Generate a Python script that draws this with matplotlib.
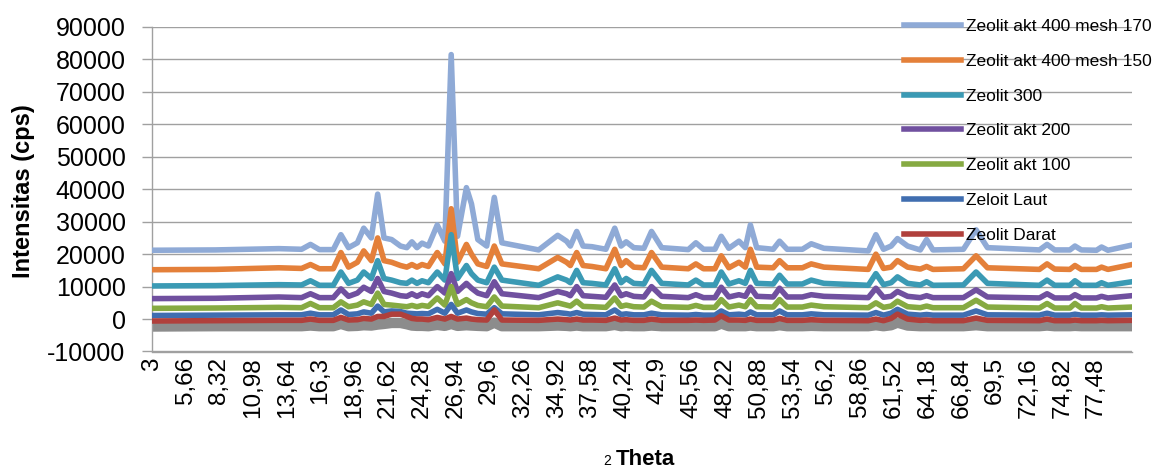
import matplotlib
matplotlib.use("Agg")
import matplotlib.pyplot as plt

plt.rcParams['font.family'] = ['Liberation Sans', 'DejaVu Sans']

theta = [3.0, 8.0, 13.0, 14.8, 15.5, 16.2, 17.3, 17.9, 18.5, 19.2,
         19.7, 20.3, 20.8, 21.3, 21.9, 22.6, 23.1, 23.5, 23.9, 24.3,
         24.8, 25.5, 26.1, 26.6, 27.1, 27.8, 28.2, 28.7, 29.4, 30.0,
         30.6, 33.5, 35.0, 35.7, 36.0, 36.5, 37.0, 37.7, 38.8, 39.5,
         40.0, 40.4, 41.0, 41.8, 42.4, 43.2, 45.3, 45.9, 46.5, 47.4,
         47.9, 48.5, 49.3, 49.8, 50.2, 50.7, 52.0, 52.5, 53.1, 54.3,
         55.0, 56.0, 59.5, 60.1, 60.7, 61.3, 61.8, 62.6, 63.6, 64.1,
         64.6, 67.0, 68.0, 68.9, 73.0, 73.6, 74.2, 75.4, 75.8, 76.3,
         77.5, 77.9, 78.4, 80.3]

mesh170 = [21200, 21300, 21700, 21500, 23000, 21400, 21400, 26000, 22000, 23500,
           28000, 25000, 38500, 25000, 24500, 22500, 22000, 23800, 22000, 23400,
           22500, 29000, 24000, 81500, 25500, 40500, 35500, 24500, 22500, 37500,
           23500, 21300, 25800, 24000, 22500, 27000, 22500, 22300, 21500, 28000,
           22500, 23800, 22000, 21800, 27000, 22000, 21400, 23500, 21500, 21500,
           25500, 21800, 24000, 22000, 29000, 22000, 21500, 24000, 21500, 21500,
           23200, 21800, 21000, 26000, 21500, 22500, 24800, 22500, 21300, 24500,
           21300, 21500, 27500, 22000, 21300, 23000, 21300, 21300, 22500, 21300,
           21200, 22200, 21200, 22800]

mesh150 = [15200, 15300, 15800, 15600, 16800, 15500, 15500, 20500, 16000, 17500,
           21000, 18000, 25000, 18000, 17500, 16500, 16000, 16800, 16000, 16800,
           16200, 20500, 17000, 34000, 17500, 23000, 20000, 17000, 16200, 22500,
           17000, 15500, 19000, 17500, 16500, 20500, 16500, 16200, 15500, 21500,
           16500, 18000, 16000, 15800, 20500, 16000, 15500, 17000, 15500, 15500,
           19500, 15800, 17500, 16000, 21500, 16000, 15800, 18000, 15800, 15800,
           17000, 16000, 15300, 20000, 15600, 16000, 18000, 16000, 15400, 16200,
           15300, 15500, 19500, 15800, 15300, 17000, 15400, 15300, 16500, 15300,
           15300, 16000, 15300, 16800]

z300 = [10200, 10300, 10600, 10500, 11800, 10400, 10400, 14500, 11000, 12000,
        14500, 12500, 18000, 12500, 12000, 11200, 11000, 12000, 11000, 11800,
        11200, 14500, 12000, 26000, 12500, 16500, 14000, 12000, 11200, 16000,
        12000, 10400, 13000, 12000, 11200, 15000, 11200, 11000, 10500, 15500,
        11200, 12500, 11000, 10800, 15000, 11000, 10500, 12000, 10500, 10500,
        14500, 10800, 11800, 11000, 15000, 11000, 10800, 13500, 10800, 10800,
        12000, 11000, 10400, 14000, 10600, 11200, 13000, 11000, 10500, 11500,
        10400, 10500, 14500, 11000, 10400, 12000, 10400, 10400, 11800, 10400,
        10400, 11200, 10400, 11500]

akt200 = [6300, 6400, 6800, 6600, 7800, 6600, 6600, 9300, 7000, 8000,
          9800, 8500, 12500, 8500, 8000, 7200, 7000, 7800, 7000, 7800,
          7200, 10000, 8000, 14000, 8500, 11000, 9500, 8000, 7200, 11500,
          7800, 6600, 8500, 7800, 7200, 10000, 7200, 7000, 6700, 10500,
          7200, 7800, 7000, 6800, 10000, 7000, 6600, 7500, 6600, 6600,
          9800, 6800, 7500, 7000, 9800, 7000, 6800, 9500, 6800, 6800,
          7500, 7000, 6600, 9500, 6700, 7000, 8500, 7000, 6600, 7200,
          6600, 6600, 9000, 6800, 6500, 7800, 6500, 6500, 7500, 6500,
          6500, 7000, 6500, 7200]

akt100 = [3300, 3400, 3600, 3500, 4800, 3500, 3500, 5300, 3800, 4300,
          5300, 4500, 8000, 4500, 4300, 4000, 3800, 4200, 3800, 4200,
          3900, 6500, 4300, 10000, 4500, 6000, 5000, 4200, 3800, 6800,
          4000, 3500, 5000, 4300, 4000, 5500, 3900, 3800, 3600, 6500,
          3900, 4300, 3800, 3700, 5500, 3800, 3600, 4200, 3600, 3600,
          6000, 3700, 4300, 3800, 6000, 3800, 3700, 6000, 3700, 3700,
          4300, 3800, 3500, 5000, 3600, 4000, 5500, 3800, 3500, 4000,
          3500, 3500, 5800, 3700, 3400, 4800, 3400, 3400, 4800, 3400,
          3400, 3800, 3400, 3700]

laut = [1100, 1200, 1300, 1300, 1800, 1300, 1300, 2800, 1400, 1600,
        2200, 1800, 4000, 2200, 2500, 2300, 1800, 1700, 1600, 1700,
        1600, 3000, 1800, 4500, 1800, 2800, 2200, 1700, 1500, 3500,
        1600, 1300, 2000, 1700, 1500, 2000, 1500, 1400, 1300, 2800,
        1400, 1600, 1300, 1300, 1800, 1300, 1200, 1400, 1200, 1200,
        2500, 1300, 1500, 1300, 2200, 1300, 1300, 2500, 1300, 1300,
        1600, 1300, 1200, 2000, 1200, 1800, 3000, 1500, 1200, 1400,
        1200, 1200, 2500, 1300, 1200, 1800, 1200, 1200, 1500, 1200,
        1200, 1300, 1200, 1300]

darat = [-600, -500, -400, -400, 0, -400, -400, 500, -300, -200,
         200, 0, 800, 800, 1500, 1500, 800, 200, 0, 0,
         -200, 500, 0, 800, 0, 300, 0, -200, -300, 2800,
         -300, -400, 0, -200, -300, 0, -300, -300, -400, 300,
         -300, -200, -400, -400, 0, -400, -400, -300, -400, -300,
         1000, -300, -300, -400, 0, -400, -400, 200, -400, -400,
         -200, -400, -500, 0, -500, 200, 1500, 0, -400, -300,
         -500, -500, 300, -400, -500, 0, -500, -500, -300, -500,
         -500, -400, -500, -400]

grey = [-2300, -2200, -2200, -2200, -2000, -2200, -2200, -1500, -2200, -2100,
        -1900, -2000, -1700, -1500, -1200, -1200, -1600, -2000, -2100, -2100,
        -2200, -1800, -2100, -1500, -2100, -1900, -2000, -2100, -2200, -1100,
        -2200, -2200, -2000, -2100, -2200, -2000, -2200, -2200, -2200, -1800,
        -2200, -2100, -2200, -2200, -2000, -2200, -2200, -2200, -2200, -2200,
        -1400, -2200, -2200, -2200, -2000, -2200, -2200, -1900, -2200, -2200,
        -2100, -2200, -2200, -1900, -2200, -1900, -1100, -2000, -2200, -2200,
        -2200, -2200, -1900, -2200, -2200, -2000, -2200, -2200, -2100, -2200,
        -2200, -2200, -2200, -2200]

series = [
    ("Zeolit akt 400 mesh 170", mesh170, "#8FAAD6"),
    ("Zeolit akt 400 mesh 150", mesh150, "#E4803A"),
    ("Zeolit 300", z300, "#3B9AB4"),
    ("Zeolit akt 200", akt200, "#70509F"),
    ("Zeolit akt 100", akt100, "#86AA42"),
    ("Zeloit Laut", laut, "#406EB0"),
    ("Zeolit Darat", darat, "#B0403C"),
]

xticks = [3, 5.66, 8.32, 10.98, 13.64, 16.3, 18.96, 21.62, 24.28, 26.94,
          29.6, 32.26, 34.92, 37.58, 40.24, 42.9, 45.56, 48.22, 50.88, 53.54,
          56.2, 58.86, 61.52, 64.18, 66.84, 69.5, 72.16, 74.82, 77.48]
xlabels = ["3", "5,66", "8,32", "10,98", "13,64", "16,3", "18,96", "21,62",
           "24,28", "26,94", "29,6", "32,26", "34,92", "37,58", "40,24", "42,9",
           "45,56", "48,22", "50,88", "53,54", "56,2", "58,86", "61,52", "64,18",
           "66,84", "69,5", "72,16", "74,82", "77,48"]
yticks = list(range(-10000, 90001, 10000))

W, H = 1155, 469
fig = plt.figure(figsize=(W / 100, H / 100), dpi=100)
ax = fig.add_axes([152 / W, 1 - 351.5 / H, (1132 - 152) / W, (351.5 - 27) / H])

ax.plot(theta, grey, color="#8C8C8C", lw=7.5, solid_capstyle='butt', zorder=2)
for name, vals, col in series:
    ax.plot(theta, vals, color=col, lw=4, label=name, zorder=3)

ax.set_xlim(3, 80.3)
ax.set_ylim(-10000, 90000)
ax.set_yticks(yticks)
ax.set_yticklabels([str(v) for v in yticks], fontsize=18)
ax.set_xticks(xticks)
ax.set_xticklabels(xlabels, rotation=90, fontsize=17.5, va='top')
ax.tick_params(axis='x', length=0, pad=4)
ax.tick_params(axis='y', length=7, width=1, color='#A0A0A0', pad=12)
ax.grid(axis='y', color='#A0A0A0', lw=1)
ax.set_axisbelow(True)
for s in ['top', 'right']:
    ax.spines[s].set_visible(False)
for s in ['left', 'bottom']:
    ax.spines[s].set_color('#A0A0A0')
    ax.spines[s].set_linewidth(1)

fig.text(24 / W, 1 - 191 / H, "Intensitas (cps)", rotation=90, fontsize=17,
         fontweight='bold', ha='center', va='center')
fig.text(611 / W, 1 - 465 / H, "2", fontsize=10, ha='right', va='baseline')
fig.text(616 / W, 1 - 465 / H, "Theta", fontsize=16, fontweight='bold',
         ha='left', va='baseline')

ax.legend(loc='upper left', bbox_to_anchor=(904 / W, 1 - 19 / H),
          bbox_transform=fig.transFigure, frameon=False, fontsize=12.5,
          handlelength=3.3, handletextpad=0.25, labelspacing=1.13,
          borderpad=0, borderaxespad=0)

fig.savefig("out.png", dpi=100)
